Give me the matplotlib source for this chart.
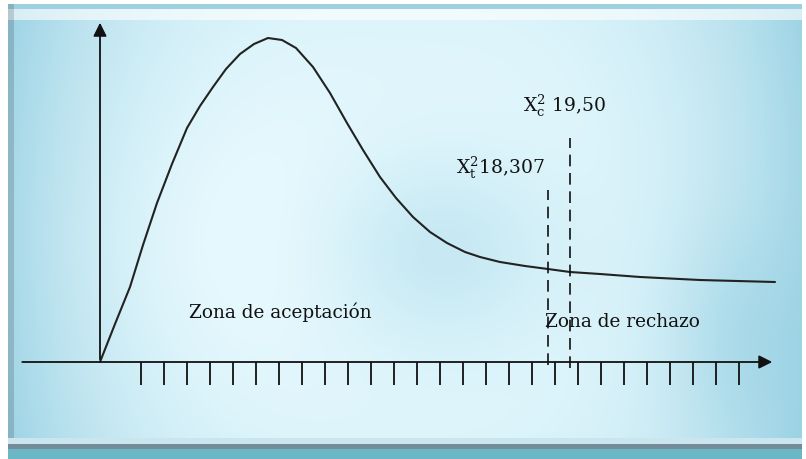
import numpy as np
import matplotlib
matplotlib.use("Agg")
import matplotlib.pyplot as plt

plt.rcParams['font.family'] = ['DejaVu Serif']
plt.rcParams['mathtext.fontset'] = 'dejavuserif'

# curve (chi-square like sketch), x in tick units, y in same units
curve_x = [0, 0.652, 1.304, 1.870, 2.478, 3.130, 3.783, 4.348, 4.913, 5.478, 6.087,
           6.696, 7.304, 7.913, 8.522, 9.261, 10.0, 10.739, 11.435, 12.174, 12.870,
           13.609, 14.348, 15.087, 15.870, 16.522, 17.391, 18.478, 19.478, 20.435,
           21.739, 23.478, 26.087, 29.348]
curve_y = [0, 1.652, 3.261, 5.087, 6.913, 8.609, 10.174, 11.130, 11.957, 12.739, 13.391,
           13.826, 14.087, 14.0, 13.652, 12.826, 11.696, 10.391, 9.217, 8.043, 7.130,
           6.304, 5.652, 5.174, 4.783, 4.565, 4.348, 4.174, 4.043, 3.913,
           3.826, 3.696, 3.565, 3.478]

tick_x = [1.78 + i for i in range(27)]

crit_x = [19.48, 20.43]          # 18,307 and 19,50
crit_top = [7.5, 9.75]
crit_labels = [r'X$^{\mathrm{2}}_{\mathrm{t}}$18,307', r'X$^{\mathrm{2}}_{\mathrm{c}}$ 19,50']
crit_label_pos = [(15.5, 8.2), (18.4, 10.9)]

zones = ['Zona de aceptación', 'Zona de rechazo']
zone_pos = [(3.85, 2.15), (19.35, 1.75)]

W, H = 806, 459
PX = 23.0
xmin, xmax = -100 / PX, (W - 100) / PX
ymin, ymax = -(H - 362) / PX, 362 / PX

# background gradient
xx, yy = np.meshgrid(np.arange(W), np.arange(H))
u = (xx - 405) / 400.0
v = (yy - 230) / 220.0
d = (0.85 * np.abs(u) ** 3 + 0.12 * v ** 2
     + 0.40 * np.exp(-((xx - 440) / 120.0) ** 2 - ((yy - 250) / 100.0) ** 2)
     + 0.25 * np.exp(-((xx - 730) / 70.0) ** 2 - ((yy - 330) / 110.0) ** 2)
     - 0.10 * np.exp(-((xx - 200) / 150.0) ** 2 - ((yy - 250) / 150.0) ** 2))
d = np.clip(d, 0, 1)[..., None]
light = np.array([0.90, 0.975, 0.995])
dark = np.array([0.60, 0.82, 0.89])
bg = light * (1 - d) + dark * d

# frame
bg[:, :8] = 1.0
bg[:4, :] = 1.0
bg[:, 802:] = 1.0
bg[4:9, 8:802] = [0.62, 0.82, 0.88]
bg[9:20, 8:802] = bg[9:20, 8:802] * 0.4 + 0.6
bg[4:445, 8:14] = bg[4:445, 8:14] * 0.85
bg[438:444, 8:802] = [0.80, 0.90, 0.94]
bg[444:449, 8:802] = [0.45, 0.55, 0.60]
bg[449:, 8:802] = [0.42, 0.72, 0.78]

fig = plt.figure(figsize=(W / 100, H / 100), dpi=100)
ax = fig.add_axes([0, 0, 1, 1])
ax.axis('off')
ax.set_xlim(xmin, xmax)
ax.set_ylim(ymin, ymax)
ax.imshow(bg, extent=(xmin, xmax, ymin, ymax), origin='upper', aspect='auto', zorder=0)

# axes with arrows
ax.annotate('', xy=(29.35, 0), xytext=(-3.5, 0),
            arrowprops=dict(arrowstyle='-|>', color='#111111', lw=1.3, mutation_scale=20))
ax.annotate('', xy=(0, 14.87), xytext=(0, 0),
            arrowprops=dict(arrowstyle='-|>', color='#111111', lw=1.3, mutation_scale=20))
ax.vlines(tick_x, -1.0, 0, color='#111111', lw=1.3)

ax.plot(curve_x, curve_y, color='#222222', lw=1.5, solid_joinstyle='round',
        solid_capstyle='round')

ax.vlines(crit_x, [-0.15, -0.25], crit_top, color='#111111', lw=1.2,
          linestyles=(0, (7, 4)))

for lab, (tx, ty) in zip(crit_labels, crit_label_pos):
    ax.text(tx, ty, lab, fontsize=13.5, color='#111111', va='baseline', ha='left')
for lab, (tx, ty) in zip(zones, zone_pos):
    ax.text(tx, ty, lab, fontsize=13.3, color='#111111', va='center', ha='left')

fig.savefig('out.png', dpi=100)
